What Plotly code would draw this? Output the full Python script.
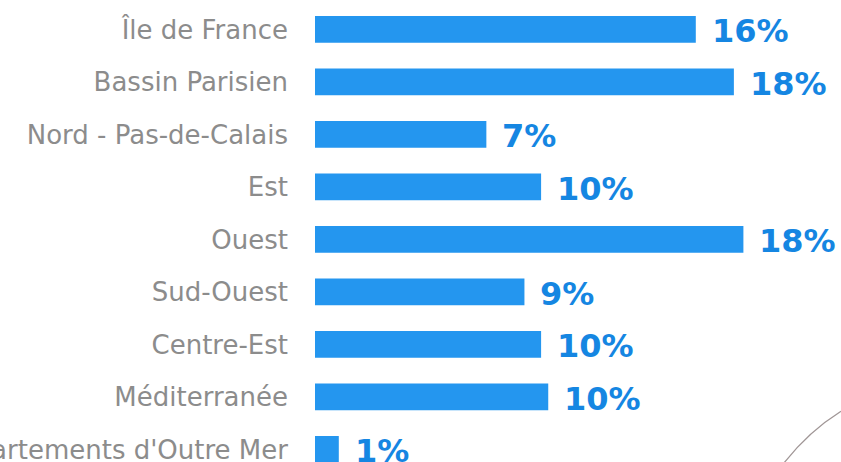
import plotly.graph_objects as go

regions = ["Île de France", "Bassin Parisien", "Nord - Pas-de-Calais", "Est", "Ouest",
           "Sud-Ouest", "Centre-Est", "Méditerranée", "Départements d'Outre Mer"]
values = [16.0, 17.6, 7.2, 9.5, 18.0, 8.8, 9.5, 9.8, 1.0]
value_labels = ["16%", "18%", "7%", "10%", "18%", "9%", "10%", "10%", "1%"]

BAR = "#2496EF"
TXT = "#1586E2"
GRAY = "#8C8C8C"

fig = go.Figure(go.Bar(
    x=values, y=regions, orientation="h",
    marker=dict(color=BAR, line=dict(width=0)),
    width=0.51, hoverinfo="skip",
))

for r, v, lab in zip(regions, values, value_labels):
    fig.add_annotation(x=v, y=r, text=lab, showarrow=False, xanchor="left",
                       yanchor="middle", xshift=14, yshift=-2,
                       font=dict(family="DejaVu Sans", size=32, color=TXT, weight="bold"))

fig.add_shape(type="path", xref="paper", yref="paper",
              path="M 0.88,-0.02 Q 0.93,0.06 1.0,0.11",
              line=dict(color="#A09696", width=1.3))

fig.update_layout(
    width=841, height=462,
    margin=dict(l=315, r=0, t=0, b=0),
    paper_bgcolor="white", plot_bgcolor="white",
    showlegend=False,
    xaxis=dict(range=[0, 526 / 23.8], visible=False, fixedrange=True),
    yaxis=dict(type="category", categoryorder="array", categoryarray=regions,
               range=[8.24, -0.56], showgrid=False, showline=False, zeroline=False,
               ticks="", ticklabelstandoff=26, automargin=False, fixedrange=True,
               tickfont=dict(family="DejaVu Sans", size=26, color=GRAY)),
)

fig.write_html("out.html", config={"displayModeBar": False, "staticPlot": True},
               post_script="document.body.style.margin='0';document.body.style.overflow='hidden';")
